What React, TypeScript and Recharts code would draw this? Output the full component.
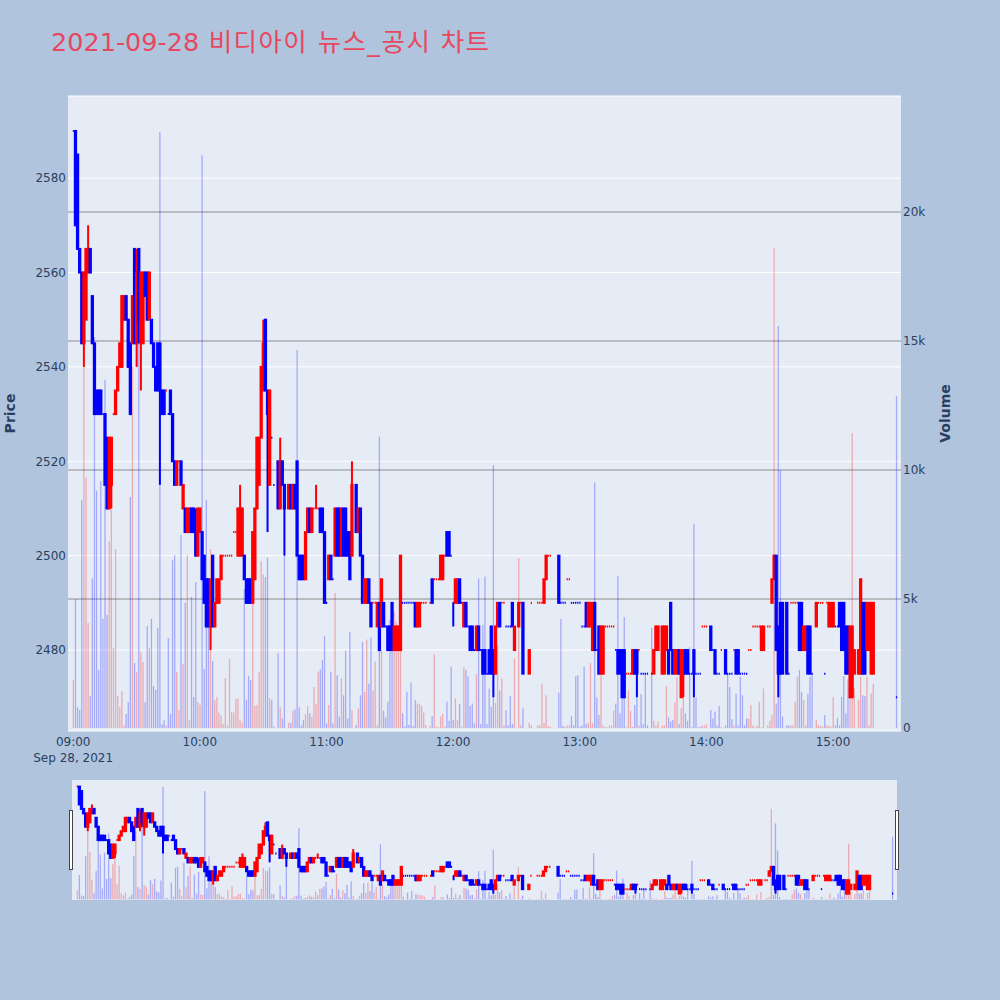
import React from 'react';
import { ComposedChart, Bar, XAxis, YAxis, CartesianGrid } from 'recharts';

// ---- chart text ----
const titleDate = '2021-09-28';
const titleName = ' 비디아이 뉴스_공시 차트';
const dateLabel = 'Sep 28, 2021';
const priceTitle = 'Price';
const volumeTitle = 'Volume';

// ---- tick values ----
const timeTicks = [0, 60, 120, 180, 240, 300, 360];
const priceTicks = [2480, 2500, 2520, 2540, 2560, 2580];
const volTicks = [0, 5000, 10000, 15000, 20000];
const volTickLabels = ['0', '5k', '10k', '15k', '20k'];
const volGridValues = [5000, 10000, 15000, 20000];

// ---- minute index (minutes after 09:00) ----
const minutes = [
  0, 1, 2, 3, 4, 5, 6, 7, 8, 9, 10, 11, 12, 13, 14, 15, 16, 17, 18, 19, 20, 21, 22, 23,
  24, 25, 26, 27, 28, 29, 30, 31, 32, 33, 34, 35, 36, 37, 38, 39, 40, 41, 42, 43, 44, 45, 46,
  47, 48, 49, 50, 51, 52, 53, 54, 55, 56, 57, 58, 59, 60, 61, 62, 63, 64, 65, 66, 67, 68, 69,
  70, 71, 72, 73, 74, 75, 76, 77, 78, 79, 80, 81, 82, 83, 84, 85, 86, 87, 88, 89, 90, 91, 92,
  93, 94, 95,
  97, 98, 99, 100, 102, 103, 104, 105, 106, 107, 108, 109, 110, 111, 112, 113, 114, 115, 116,
  117, 118, 119, 120, 121, 122, 123, 124, 125, 126, 127, 128, 129, 130, 131, 132, 134, 135,
  136, 137, 138, 139, 140, 141, 142, 143,
  144, 145, 146, 147, 148, 149, 150, 151, 152, 153, 154, 155, 156, 157, 158, 159, 160, 161,
  162, 163, 164, 165, 166, 167, 169, 170, 171, 172, 173, 174, 175, 176, 177, 178, 179, 180,
  181, 182, 183, 184, 185, 186, 187, 188, 189, 190, 191,
  192, 193, 194, 195, 196, 197, 198, 199, 200, 201, 202, 203, 204, 205, 206, 207, 208, 209,
  211, 212, 213, 216, 217, 220, 221, 222, 223, 224, 225, 226, 230, 231, 232, 233, 234, 235,
  236, 237, 238, 239, 240,
  241, 242, 243, 244, 245, 246, 247, 248, 249, 250, 251, 252, 253, 254, 255, 256, 257, 258,
  259, 260, 261, 262, 263, 264, 265, 266, 267, 268, 269, 270, 271, 272, 274, 275, 276, 277,
  279, 280, 281, 282, 283, 284, 285, 286, 287, 288, 289,
  290, 291, 292, 293, 294, 295, 296, 297, 298, 299, 300, 302, 303, 304, 305, 306, 307, 309,
  310, 311, 312, 313, 314, 315, 316, 317, 318, 319, 320, 321, 322, 323, 324, 325, 326, 327,
  329, 330, 331, 332, 333, 334, 335, 336,
  338, 339, 340, 341, 342, 343, 344, 345, 346, 347, 348, 349, 350, 352, 353, 354, 355, 356,
  357, 358, 359, 360, 361, 362, 363, 364, 365, 366, 367, 368, 369, 370, 372, 373, 374, 375,
  376, 377, 378, 379, 390,
];

const opens = [
  2590, 2590, 2585, 2565, 2560, 2545, 2550, 2560, 2565, 2555,
  2545, 2535, 2535, 2535, 2530, 2530, 2525, 2510, 2515, 2530,
  2530, 2535, 2540, 2540, 2550, 2555, 2550, 2545, 2545, 2565,
  2545, 2565, 2545, 2545, 2560, 2560, 2550, 2550, 2545, 2540,
  2545, 2545, 2535, 2535, 2535, 2530, 2535,
  2530, 2520, 2515, 2520, 2520, 2510, 2510, 2505, 2505, 2510,
  2510, 2505, 2500, 2505, 2505, 2500, 2495, 2495, 2485, 2500,
  2485, 2490, 2490, 2495, 2500, 2500, 2500, 2500, 2500, 2505,
  2505, 2500, 2500, 2500, 2500, 2495, 2495, 2495, 2490, 2495,
  2510, 2515, 2525, 2535, 2550, 2535, 2515, 2525, 2515,
  2520, 2510, 2520, 2515, 2510, 2515, 2510, 2515, 2520, 2500,
  2500, 2500, 2495, 2505, 2510, 2505, 2510, 2510, 2510, 2510,
  2510, 2505, 2490, 2495, 2500, 2495, 2500, 2510, 2510, 2500,
  2510, 2510, 2505, 2505, 2500, 2515, 2505, 2510, 2500, 2490,
  2490, 2495, 2490, 2490, 2490,
  2485, 2490, 2485, 2490, 2485, 2485, 2485, 2490, 2480, 2480,
  2480, 2480, 2490, 2490, 2490, 2490, 2490, 2490, 2490, 2485,
  2485, 2490, 2490, 2490, 2490, 2495, 2495, 2495, 2495, 2495,
  2495, 2500, 2505, 2505, 2500, 2490, 2490, 2490, 2495, 2490,
  2485, 2490, 2485, 2485, 2485, 2480, 2480,
  2485, 2480, 2480, 2480, 2475, 2480, 2485, 2480, 2475, 2485,
  2490, 2490, 2490, 2485, 2485, 2485, 2490, 2480, 2485, 2490,
  2490, 2475, 2490, 2490, 2490, 2490, 2490, 2495, 2500, 2500,
  2500, 2490, 2490, 2490, 2495, 2495, 2490, 2490, 2490, 2490,
  2490,
  2485, 2485, 2490, 2485, 2485, 2480, 2490, 2480, 2485, 2475,
  2475, 2485, 2485, 2485, 2485, 2485, 2480, 2480, 2480, 2480,
  2480, 2475, 2475, 2475, 2475, 2480, 2480, 2480, 2475, 2475,
  2475, 2475, 2475, 2475, 2480, 2480, 2475, 2475, 2480, 2480,
  2490, 2480, 2475, 2475, 2480, 2470, 2475,
  2480, 2480, 2475, 2475, 2480, 2475, 2475, 2475, 2485, 2485,
  2485, 2485, 2480, 2480, 2475, 2475, 2480, 2480, 2475, 2475,
  2475, 2480, 2480, 2480, 2475, 2475, 2475, 2475, 2480, 2480,
  2485, 2485, 2485, 2485, 2480, 2480, 2485, 2485, 2490, 2495,
  2500, 2485, 2490, 2490,
  2490, 2475, 2490, 2490, 2490, 2490, 2490, 2490, 2480, 2480,
  2485, 2485, 2475, 2485, 2490, 2490, 2490, 2475, 2490, 2485,
  2485, 2485, 2485, 2485, 2490, 2490, 2490, 2485, 2485, 2470,
  2470, 2475, 2475, 2475, 2490, 2490, 2480, 2480, 2475, 2475,
  2470,
];

const highs = [
  2590, 2590, 2585, 2565, 2560, 2560, 2565, 2570, 2565, 2555,
  2545, 2535, 2535, 2535, 2530, 2530, 2525, 2525, 2525, 2530,
  2535, 2540, 2545, 2555, 2555, 2555, 2550, 2545, 2555, 2565,
  2565, 2565, 2560, 2560, 2560, 2560, 2560, 2550, 2545, 2540,
  2545, 2545, 2535, 2535, 2535, 2530, 2535,
  2530, 2520, 2520, 2520, 2520, 2515, 2510, 2510, 2510, 2510,
  2510, 2510, 2510, 2510, 2505, 2500, 2495, 2495, 2495, 2500,
  2490, 2495, 2495, 2500, 2500, 2500, 2500, 2500, 2500, 2505,
  2505, 2510, 2515, 2510, 2500, 2495, 2495, 2495, 2505, 2510,
  2525, 2525, 2540, 2550, 2550, 2535, 2535, 2525, 2515,
  2520, 2525, 2520, 2515, 2515, 2515, 2515, 2515, 2520, 2500,
  2500, 2500, 2505, 2510, 2510, 2510, 2510, 2515, 2510, 2510,
  2510, 2505, 2490, 2500, 2500, 2495, 2510, 2510, 2510, 2510,
  2510, 2510, 2505, 2505, 2520, 2515, 2510, 2510, 2500, 2495,
  2495, 2495, 2490, 2490, 2490,
  2490, 2490, 2495, 2490, 2485, 2485, 2485, 2490, 2485, 2485,
  2485, 2500, 2490, 2490, 2490, 2490, 2490, 2490, 2490, 2490,
  2490, 2490, 2490, 2490, 2490, 2495, 2495, 2495, 2495, 2500,
  2500, 2500, 2505, 2505, 2500, 2490, 2495, 2495, 2495, 2490,
  2490, 2490, 2485, 2485, 2485, 2480, 2485,
  2485, 2480, 2480, 2480, 2475, 2480, 2485, 2480, 2485, 2490,
  2490, 2490, 2490, 2485, 2485, 2485, 2490, 2485, 2490, 2490,
  2490, 2480, 2490, 2490, 2490, 2490, 2495, 2500, 2500, 2500,
  2500, 2490, 2490, 2490, 2495, 2495, 2490, 2490, 2490, 2490,
  2490,
  2485, 2485, 2490, 2490, 2490, 2490, 2490, 2480, 2485, 2485,
  2485, 2485, 2485, 2485, 2485, 2485, 2480, 2480, 2480, 2480,
  2480, 2475, 2475, 2475, 2480, 2480, 2480, 2480, 2475, 2475,
  2475, 2475, 2475, 2480, 2485, 2485, 2485, 2485, 2485, 2480,
  2490, 2480, 2480, 2480, 2480, 2480, 2480,
  2480, 2480, 2475, 2475, 2480, 2475, 2475, 2475, 2485, 2485,
  2485, 2485, 2480, 2480, 2475, 2475, 2480, 2480, 2475, 2475,
  2475, 2480, 2480, 2480, 2475, 2475, 2475, 2475, 2480, 2480,
  2485, 2485, 2485, 2485, 2485, 2485, 2485, 2485, 2495, 2500,
  2500, 2485, 2490, 2490,
  2490, 2475, 2490, 2490, 2490, 2490, 2490, 2490, 2485, 2485,
  2485, 2485, 2475, 2490, 2490, 2490, 2490, 2475, 2490, 2490,
  2490, 2490, 2485, 2485, 2490, 2490, 2490, 2485, 2485, 2485,
  2485, 2480, 2480, 2495, 2490, 2490, 2490, 2490, 2490, 2490,
  2470,
];

const lows = [
  2590, 2570, 2565, 2560, 2545, 2540, 2550, 2560, 2560, 2545,
  2530, 2530, 2530, 2530, 2530, 2515, 2510, 2510, 2510, 2530,
  2530, 2535, 2540, 2540, 2550, 2550, 2540, 2530, 2545, 2545,
  2540, 2545, 2535, 2545, 2555, 2550, 2550, 2545, 2540, 2535,
  2535, 2515, 2530, 2530, 2535, 2530, 2530,
  2520, 2515, 2515, 2520, 2515, 2510, 2505, 2505, 2505, 2505,
  2505, 2500, 2500, 2505, 2495, 2490, 2485, 2485, 2480, 2485,
  2485, 2490, 2490, 2495, 2500, 2500, 2500, 2500, 2500, 2505,
  2505, 2500, 2500, 2500, 2495, 2490, 2490, 2490, 2490, 2495,
  2510, 2515, 2525, 2535, 2535, 2505, 2515, 2525, 2515,
  2510, 2510, 2515, 2500, 2510, 2510, 2510, 2510, 2500, 2495,
  2495, 2495, 2495, 2505, 2505, 2505, 2510, 2510, 2510, 2505,
  2505, 2490, 2490, 2495, 2495, 2495, 2500, 2500, 2500, 2500,
  2500, 2500, 2500, 2495, 2500, 2505, 2505, 2500, 2490, 2490,
  2490, 2490, 2485, 2490, 2490,
  2485, 2480, 2485, 2485, 2485, 2480, 2480, 2480, 2480, 2480,
  2480, 2480, 2490, 2490, 2490, 2490, 2490, 2490, 2485, 2485,
  2485, 2490, 2490, 2490, 2490, 2490, 2495, 2495, 2495, 2495,
  2495, 2500, 2500, 2500, 2500, 2485, 2490, 2490, 2490, 2490,
  2485, 2485, 2485, 2480, 2480, 2480, 2480,
  2480, 2480, 2475, 2475, 2475, 2475, 2475, 2470, 2475, 2485,
  2485, 2490, 2490, 2485, 2485, 2485, 2485, 2480, 2485, 2490,
  2475, 2475, 2490, 2490, 2490, 2490, 2490, 2495, 2500, 2500,
  2490, 2490, 2490, 2490, 2495, 2495, 2490, 2490, 2490, 2490,
  2490,
  2485, 2485, 2485, 2485, 2485, 2480, 2480, 2480, 2475, 2475,
  2475, 2485, 2485, 2485, 2485, 2485, 2480, 2475, 2475, 2470,
  2470, 2475, 2475, 2475, 2475, 2475, 2470, 2480, 2475, 2475,
  2475, 2475, 2475, 2475, 2480, 2480, 2475, 2475, 2480, 2475,
  2480, 2475, 2475, 2475, 2475, 2470, 2470,
  2475, 2475, 2475, 2475, 2470, 2475, 2475, 2475, 2485, 2485,
  2485, 2480, 2480, 2475, 2475, 2475, 2480, 2475, 2475, 2475,
  2475, 2480, 2475, 2475, 2475, 2475, 2475, 2475, 2480, 2480,
  2485, 2485, 2485, 2485, 2480, 2480, 2485, 2485, 2490, 2495,
  2480, 2470, 2475, 2475,
  2475, 2475, 2490, 2490, 2490, 2490, 2480, 2480, 2480, 2480,
  2475, 2475, 2475, 2485, 2490, 2490, 2490, 2475, 2490, 2485,
  2485, 2485, 2485, 2485, 2485, 2480, 2480, 2475, 2475, 2470,
  2470, 2475, 2475, 2475, 2475, 2475, 2480, 2480, 2475, 2475,
  2470,
];

const closes = [
  2590, 2570, 2565, 2560, 2545, 2560, 2565, 2565, 2560, 2545,
  2530, 2530, 2530, 2530, 2530, 2515, 2510, 2525, 2525, 2530,
  2535, 2540, 2545, 2555, 2555, 2550, 2540, 2530, 2555, 2545,
  2560, 2550, 2560, 2560, 2555, 2550, 2560, 2545, 2540, 2535,
  2535, 2535, 2530, 2530, 2535, 2530, 2530,
  2520, 2515, 2520, 2520, 2515, 2515, 2505, 2510, 2510, 2505,
  2505, 2500, 2510, 2510, 2495, 2490, 2485, 2485, 2495, 2485,
  2490, 2495, 2495, 2500, 2500, 2500, 2500, 2500, 2500, 2505,
  2505, 2510, 2510, 2510, 2495, 2490, 2490, 2490, 2505, 2510,
  2525, 2525, 2540, 2545, 2535, 2530, 2535, 2525, 2515,
  2510, 2520, 2515, 2510, 2515, 2510, 2515, 2510, 2500, 2495,
  2495, 2495, 2505, 2510, 2505, 2510, 2510, 2510, 2510, 2505,
  2505, 2490, 2490, 2500, 2495, 2495, 2510, 2500, 2500, 2510,
  2500, 2500, 2500, 2495, 2515, 2505, 2510, 2500, 2490, 2495,
  2495, 2490, 2485, 2490, 2490,
  2490, 2480, 2495, 2485, 2485, 2480, 2480, 2480, 2485, 2485,
  2485, 2500, 2490, 2490, 2490, 2490, 2490, 2490, 2485, 2490,
  2490, 2490, 2490, 2490, 2490, 2490, 2495, 2495, 2495, 2500,
  2500, 2500, 2500, 2500, 2500, 2490, 2495, 2495, 2490, 2490,
  2490, 2485, 2485, 2480, 2480, 2480, 2485,
  2480, 2480, 2475, 2475, 2475, 2475, 2475, 2475, 2485, 2490,
  2485, 2490, 2490, 2485, 2485, 2485, 2485, 2485, 2490, 2490,
  2475, 2480, 2490, 2490, 2490, 2490, 2495, 2500, 2500, 2500,
  2490, 2490, 2490, 2490, 2495, 2495, 2490, 2490, 2490, 2490,
  2490,
  2485, 2485, 2485, 2490, 2490, 2490, 2480, 2480, 2475, 2485,
  2485, 2485, 2485, 2485, 2485, 2485, 2480, 2475, 2475, 2470,
  2470, 2475, 2475, 2475, 2480, 2475, 2475, 2480, 2475, 2475,
  2475, 2475, 2475, 2480, 2485, 2485, 2485, 2485, 2485, 2475,
  2480, 2475, 2480, 2480, 2475, 2480, 2480,
  2475, 2475, 2475, 2475, 2475, 2475, 2475, 2475, 2485, 2485,
  2485, 2480, 2480, 2475, 2475, 2475, 2480, 2475, 2475, 2475,
  2475, 2480, 2475, 2475, 2475, 2475, 2475, 2475, 2480, 2480,
  2485, 2485, 2485, 2485, 2485, 2485, 2485, 2485, 2495, 2500,
  2480, 2475, 2475, 2475,
  2475, 2475, 2490, 2490, 2490, 2490, 2480, 2480, 2485, 2485,
  2475, 2475, 2475, 2490, 2490, 2490, 2490, 2475, 2490, 2490,
  2490, 2490, 2485, 2485, 2485, 2480, 2480, 2475, 2475, 2485,
  2485, 2480, 2480, 2495, 2475, 2475, 2490, 2490, 2490, 2490,
  2470,
];

const volumes = [
  1860, 5000, 800, 700, 8840, 14000, 9700, 4070, 1240, 5800,
  15150, 9200, 2250, 9570, 4230, 13500, 4380, 7240, 8450, 3100,
  6940, 1240, 810, 1420, 100, 540, 1000, 8950, 14000, 2520,
  2170, 16700, 2950, 2560, 1000, 3950, 3100, 4230, 1630, 1470,
  3880, 23100, 150, 300, 100, 3490, 540,
  6500, 6700, 2170, 700, 7480, 2480, 4850, 6700, 300, 5080,
  1200, 5660, 1000, 900, 22200, 2290, 8840, 4100, 6940, 2600,
  1080, 1200, 600, 480, 150, 1940, 100, 2670, 620, 600,
  1120, 1160, 300, 200, 5390, 1080, 2020, 1860, 5970, 850,
  900, 2170, 6470, 5950, 5850, 6600, 1160, 1090, 50,
  2900, 800, 370, 6670, 200, 200, 670, 720, 14650, 800,
  100, 310, 540, 850, 570, 440, 1590, 930, 2180, 2270,
  2630, 3560, 180, 890, 2180, 180, 5230, 2050, 440, 1920,
  1270, 3000, 370, 3730, 700, 120, 760, 1270, 3340, 1400,
  3430, 1720, 3510, 1460, 2570,
  120, 11290, 3020, 670, 410, 1020, 4190, 4000, 4520, 4130,
  3680, 3280, 570, 50, 1400, 120, 1760, 80, 1090, 950,
  930, 850, 600, 120, 80, 460, 2860, 50, 30, 440,
  540, 50, 1020, 280, 2380, 310, 1150, 300, 930, 30,
  2350, 2250, 2000, 850, 950, 180, 2100,
  5800, 150, 4000, 5870, 150, 1530, 820, 10190, 980, 3210,
  1460, 1920, 100, 700, 100, 1230, 150, 2700, 6590, 120,
  760, 200, 100, 100, 100, 1720, 200, 1270, 80, 50,
  1370, 4220, 80, 30, 100, 100, 460, 100, 2000, 2050,
  50,
  100, 2380, 150, 200, 2510, 180, 9510, 1180, 500, 2050,
  100, 30, 30, 100, 100, 670, 950, 5900, 570, 1150,
  4300, 30, 1460, 670, 50, 890, 1190, 100, 1320, 150,
  2120, 100, 3870, 280, 100, 250, 100, 100, 1630, 410,
  250, 310, 980, 1970, 150, 760, 1210,
  570, 280, 3130, 30, 7920, 1190, 30, 50, 100, 100,
  150, 700, 370, 630, 100, 850, 30, 100, 2100, 1590,
  340, 100, 1330, 100, 2000, 1270, 100, 370, 370, 890,
  100, 30, 100, 1020, 30, 1530, 100, 280, 500, 18600,
  950, 15580, 10000, 440,
  100, 100, 100, 100, 1020, 1990, 2250, 1400, 1080, 100,
  1330, 1990, 2120, 310, 100, 100, 50, 500, 100, 100,
  50, 1200, 100, 380, 100, 1200, 2010, 570, 1890, 2440,
  11430, 1530, 1080, 1990, 1270, 1230, 1990, 120, 1330, 1720,
  12870,
];

// ---- styling constants ----
const FONT = '"DejaVu Sans", "Noto Sans CJK KR", sans-serif';
const FONT_COLOR = '#2a3f5f';
const UP = '#ff0000';
const DOWN = '#0000ff';
const UP_VOL = 'rgba(255,0,0,0.28)';
const DOWN_VOL = 'rgba(0,0,255,0.28)';
const X_DOMAIN: [number, number] = [-2.46, 392.2];
const PRICE_DOMAIN: [number, number] = [2462.85, 2597.4];
const VOL_DOMAIN: [number, number] = [-116, 24496];
const EPS = 0.01;

type Row = { t: number; o: number; h: number; l: number; c: number; v: number; up: boolean };

// direction rule used by plotly candlesticks (equal open/close compares with previous close)
function buildRows(): Row[] {
  const out: Row[] = [];
  let inc = true;
  let prev: number | null = null;
  for (let i = 0; i < minutes.length; i++) {
    const o = opens[i];
    const c = closes[i];
    if (c > o) inc = true;
    else if (c < o) inc = false;
    else if (prev !== null && c !== prev) inc = c > prev;
    prev = c;
    out.push({ t: minutes[i], o, h: highs[i], l: lows[i], c, v: volumes[i], up: inc });
  }
  return out;
}
const rows = buildRows();

const candleRange = (d: Row) => [d.l - EPS, d.h + EPS];

function fmtTime(m: number) {
  const tot = 9 * 60 + m;
  const hh = Math.floor(tot / 60);
  const mm = tot % 60;
  return `${String(hh).padStart(2, '0')}:${String(mm).padStart(2, '0')}`;
}

function CandleShape(props: any) {
  const { x, y, width, height, payload } = props;
  if (!payload || !isFinite(x) || !isFinite(y) || !isFinite(height)) return null;
  const hi = payload.h + EPS;
  const lo = payload.l - EPS;
  const top0 = Math.min(y, y + height);
  const k = Math.abs(height) / (hi - lo);
  const py = (p: number) => top0 + (hi - p) * k;
  const cx = x + width / 2;
  const color = payload.up ? UP : DOWN;
  const bw = 1.3;
  const yO = py(payload.o);
  const yC = py(payload.c);
  const yH = py(payload.h);
  const yL = py(payload.l);
  const top = Math.min(yO, yC);
  const bot = Math.max(yO, yC);
  return (
    <g>
      {yH < top - 0.05 && <line x1={cx} x2={cx} y1={yH} y2={top} stroke={color} strokeWidth={2} />}
      {yL > bot + 0.05 && <line x1={cx} x2={cx} y1={bot} y2={yL} stroke={color} strokeWidth={2} />}
      {bot - top > 0.3 ? (
        <rect x={cx - bw / 2} y={top} width={bw} height={bot - top} fill={color} stroke={color} strokeWidth={2} />
      ) : (
        <line x1={cx - bw / 2} x2={cx + bw / 2} y1={top} y2={top} stroke={color} strokeWidth={2} />
      )}
    </g>
  );
}

function VolShape(props: any) {
  const { x, y, width, height, payload } = props;
  if (!payload || !isFinite(x) || !isFinite(y) || !isFinite(height)) return null;
  const cx = x + width / 2;
  const w = 1.3;
  const top = Math.min(y, y + height);
  return <rect x={cx - w / 2} y={top} width={w} height={Math.abs(height)} fill={payload.up ? UP_VOL : DOWN_VOL} />;
}

function TimeTick(props: any) {
  const { x, y, payload } = props;
  const m = payload.value;
  return (
    <g>
      <text x={x} y={y + 9} textAnchor="middle" fill={FONT_COLOR} fontSize={12} fontFamily={FONT}>
        {fmtTime(m)}
      </text>
      {m === timeTicks[0] && (
        <text x={x} y={y + 25} textAnchor="middle" fill={FONT_COLOR} fontSize={12} fontFamily={FONT}>
          {dateLabel}
        </text>
      )}
    </g>
  );
}

const axisTitle = (text: string, side: 'left' | 'right') => (props: any) => {
  const vb = props && props.viewBox ? props.viewBox : { x: side === 'left' ? 8 : 901, y: 96, width: 60, height: 635 };
  const cx = side === 'left' ? vb.x + 2 : vb.x + 44;
  const cy = vb.y + vb.height / 2;
  return (
    <text
      x={cx}
      y={cy}
      transform={`rotate(-90 ${cx} ${cy})`}
      textAnchor="middle"
      dominantBaseline="central"
      fill={FONT_COLOR}
      fontSize={14}
      fontWeight="bold"
      fontFamily={FONT}
    >
      {text}
    </text>
  );
};

const tickStyle = { fill: FONT_COLOR, fontSize: 12, fontFamily: FONT };

export default function App() {
  return (
    <div style={{ position: 'absolute', left: 0, top: 0, width: 1000, height: 1000, background: '#b0c4de', overflow: 'hidden' }}>
      <div style={{ position: 'absolute', left: 0, top: 0 }}>
        <ComposedChart width={1000} height={780} data={rows} margin={{ top: 96, right: 39, bottom: 19, left: 8 }}>
          <CartesianGrid xAxisId="main" yAxisId="price" vertical={false} stroke="#ffffff" strokeWidth={1} fill="#e5ecf6" fillOpacity={1} />
          <CartesianGrid xAxisId="main" yAxisId="vol" vertical={false} stroke="#8c8c8c" strokeWidth={1} horizontalValues={volGridValues} />
          <XAxis
            xAxisId="main"
            dataKey="t"
            type="number"
            domain={X_DOMAIN}
            ticks={timeTicks}
            interval={0}
            tick={<TimeTick />}
            axisLine={false}
            tickLine={false}
            tickSize={0}
            tickMargin={6}
            height={30}
            allowDataOverflow
          />
          <XAxis xAxisId="vx" dataKey="t" type="number" domain={X_DOMAIN} hide allowDataOverflow />
          <YAxis
            yAxisId="price"
            orientation="left"
            type="number"
            domain={PRICE_DOMAIN}
            ticks={priceTicks}
            interval={0}
            width={60}
            axisLine={false}
            tickLine={false}
            tickSize={0}
            tickMargin={2}
            tick={tickStyle}
            allowDataOverflow
            label={axisTitle(priceTitle, 'left')}
          />
          <YAxis
            yAxisId="vol"
            orientation="right"
            type="number"
            domain={VOL_DOMAIN}
            ticks={volTicks}
            interval={0}
            width={60}
            axisLine={false}
            tickLine={false}
            tickSize={0}
            tickMargin={2}
            tick={tickStyle}
            tickFormatter={(v: number) => volTickLabels[volTicks.indexOf(v)] ?? String(v)}
            allowDataOverflow
            label={axisTitle(volumeTitle, 'right')}
          />
          <Bar xAxisId="vx" yAxisId="vol" dataKey="v" shape={<VolShape />} isAnimationActive={false} />
          <Bar xAxisId="main" yAxisId="price" dataKey={candleRange} shape={<CandleShape />} isAnimationActive={false} />
        </ComposedChart>
      </div>

      <svg style={{ position: 'absolute', left: 0, top: 0 }} width={1000} height={80}>
        <text x={51} y={51} fontSize={25.5} fill="#e8475f" fontFamily={FONT}>
          <tspan>{titleDate}</tspan>
          <tspan letterSpacing={1.4}>{titleName}</tspan>
        </text>
      </svg>

      <div style={{ position: 'absolute', left: 72, top: 780, width: 825, height: 120, background: '#e5ecf6' }}>
        <ComposedChart width={825} height={120} data={rows} margin={{ top: 0, right: 0, bottom: 0, left: 0 }}>
          <XAxis xAxisId="main" dataKey="t" type="number" domain={X_DOMAIN} hide allowDataOverflow />
          <XAxis xAxisId="vx" dataKey="t" type="number" domain={X_DOMAIN} hide allowDataOverflow />
          <YAxis yAxisId="price" type="number" domain={PRICE_DOMAIN} hide allowDataOverflow />
          <YAxis yAxisId="vol" type="number" domain={VOL_DOMAIN} hide allowDataOverflow />
          <Bar xAxisId="vx" yAxisId="vol" dataKey="v" shape={<VolShape />} isAnimationActive={false} />
          <Bar xAxisId="main" yAxisId="price" dataKey={candleRange} shape={<CandleShape />} isAnimationActive={false} />
        </ComposedChart>
      </div>

      <div style={{ position: 'absolute', left: 69, top: 810, width: 2, height: 58, background: '#ffffff', border: '1px solid #444444' }} />
      <div style={{ position: 'absolute', left: 895, top: 810, width: 2, height: 58, background: '#ffffff', border: '1px solid #444444' }} />
    </div>
  );
}
